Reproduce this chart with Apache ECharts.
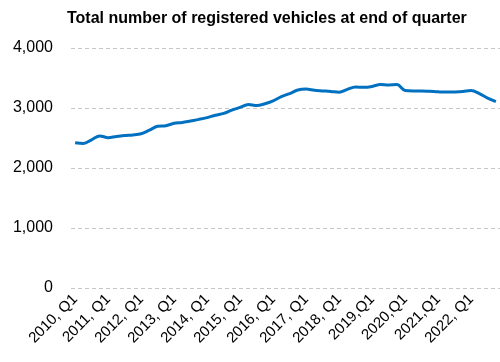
<!DOCTYPE html>
<html>
<head>
<meta charset="utf-8">
<script src="https://cdn.jsdelivr.net/npm/echarts@6/dist/echarts.min.js"></script>
<style>
  html, body { margin: 0; padding: 0; background: #fff; }
  #chart { width: 500px; height: 362px; }
</style>
</head>
<body>
<div id="chart"></div>
<script>
// Quarter labels, 2010 Q1 to 2022 Q4
const quarters = [
  "2010, Q1", "2010, Q2", "2010, Q3", "2010, Q4",
  "2011, Q1", "2011, Q2", "2011, Q3", "2011, Q4",
  "2012, Q1", "2012, Q2", "2012, Q3", "2012, Q4",
  "2013, Q1", "2013, Q2", "2013, Q3", "2013, Q4",
  "2014, Q1", "2014, Q2", "2014, Q3", "2014, Q4",
  "2015, Q1", "2015, Q2", "2015, Q3", "2015, Q4",
  "2016, Q1", "2016, Q2", "2016, Q3", "2016, Q4",
  "2017, Q1", "2017, Q2", "2017, Q3", "2017, Q4",
  "2018, Q1", "2018, Q2", "2018, Q3", "2018, Q4",
  "2019,Q1", "2019,Q2", "2019,Q3", "2019,Q4",
  "2020,Q1", "2020,Q2", "2020,Q3", "2020,Q4",
  "2021,Q1", "2021,Q2", "2021,Q3", "2021,Q4",
  "2022, Q1", "2022, Q2", "2022, Q3", "2022, Q4"
];

// Registered vehicles at end of each quarter
const registeredVehicles = [
  2420, 2410, 2470, 2535,
  2505, 2525, 2540, 2550,
  2570, 2630, 2695, 2705,
  2745, 2760, 2785, 2810,
  2840, 2880, 2910, 2965,
  3010, 3060, 3040, 3070,
  3120, 3190, 3240, 3300,
  3315, 3295, 3285, 3275,
  3262, 3310, 3350, 3345,
  3360, 3392, 3385, 3390,
  3290, 3285, 3285, 3278,
  3270, 3265, 3268, 3275,
  3290, 3240, 3165, 3105
];

const yTicks = [0, 1000, 2000, 3000, 4000];

const chart = echarts.init(document.getElementById('chart'), null, { renderer: 'canvas' });

chart.setOption({
  animation: false,
  backgroundColor: '#ffffff',
  title: {
    text: 'Total number of registered vehicles at end of quarter',
    left: 62,
    top: 6,
    textStyle: {
      fontFamily: 'Liberation Sans',
      fontWeight: 'bold',
      fontSize: 16,
      color: '#000000'
    }
  },
  grid: {
    left: 71,
    top: 48,
    width: 432,
    height: 240,
    containLabel: false
  },
  xAxis: {
    type: 'category',
    data: quarters,
    boundaryGap: true,
    axisLine: { show: false },
    axisTick: { show: false },
    axisLabel: {
      interval: 3,
      rotate: 45,
      margin: 9,
      fontFamily: 'Liberation Sans',
      fontSize: 15,
      color: '#000000'
    },
    splitLine: { show: false }
  },
  yAxis: {
    type: 'value',
    min: yTicks[0],
    max: yTicks[yTicks.length - 1],
    interval: 1000,
    axisLine: { show: false },
    axisTick: { show: false },
    axisLabel: {
      margin: 18,
      fontFamily: 'Liberation Sans',
      fontSize: 16,
      color: '#000000',
      formatter: v => v.toLocaleString('en-US')
    },
    splitLine: {
      show: true,
      lineStyle: { color: '#c6c6c6', type: [4, 3], width: 1 }
    }
  },
  series: [{
    type: 'line',
    data: registeredVehicles,
    smooth: 0.35,
    symbol: 'none',
    lineStyle: { color: '#0070c0', width: 3 },
    clip: true
  }]
});
</script>
</body>
</html>
